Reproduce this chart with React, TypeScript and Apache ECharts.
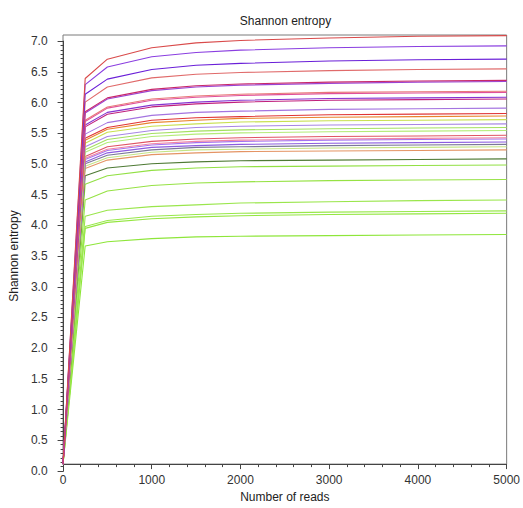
import { useEffect, useRef } from "react";
import * as echarts from "echarts";

// Number of reads sampled
const reads = [0, 250, 500, 1000, 1500, 2000, 3000, 4000, 5000];

// Shannon entropy per sample at each read depth
const s01 = [0, 6.38, 6.70, 6.89, 6.97, 7.01, 7.05, 7.08, 7.09];
const s02 = [0, 6.28, 6.57, 6.74, 6.81, 6.85, 6.89, 6.91, 6.92];
const s03 = [0, 6.12, 6.37, 6.53, 6.60, 6.63, 6.67, 6.69, 6.70];
const s04 = [0, 5.99, 6.24, 6.39, 6.45, 6.48, 6.51, 6.53, 6.54];
const s05 = [0, 5.83, 6.06, 6.20, 6.26, 6.29, 6.32, 6.34, 6.35];
const s06 = [0, 5.81, 6.04, 6.18, 6.24, 6.27, 6.30, 6.32, 6.33];
const s07 = [0, 5.69, 5.91, 6.04, 6.09, 6.12, 6.15, 6.16, 6.17];
const s08 = [0, 5.67, 5.89, 6.02, 6.07, 6.10, 6.13, 6.14, 6.15];
const s09 = [0, 5.61, 5.82, 5.94, 5.99, 6.02, 6.05, 6.06, 6.07];
const s10 = [0, 5.58, 5.79, 5.91, 5.96, 5.99, 6.02, 6.03, 6.04];
const s11 = [0, 5.46, 5.65, 5.77, 5.82, 5.84, 5.87, 5.88, 5.89];
const s12 = [0, 5.39, 5.57, 5.69, 5.73, 5.75, 5.78, 5.79, 5.80];
const s13 = [0, 5.36, 5.54, 5.65, 5.69, 5.72, 5.74, 5.75, 5.76];
const s14 = [0, 5.31, 5.49, 5.59, 5.63, 5.66, 5.68, 5.69, 5.70];
const s15 = [0, 5.25, 5.42, 5.52, 5.57, 5.59, 5.61, 5.62, 5.63];
const s16 = [0, 5.20, 5.37, 5.47, 5.51, 5.53, 5.55, 5.56, 5.57];
const s17 = [0, 5.16, 5.32, 5.42, 5.46, 5.48, 5.50, 5.51, 5.52];
const s18 = [0, 5.09, 5.25, 5.34, 5.38, 5.40, 5.42, 5.43, 5.44];
const s19 = [0, 5.06, 5.21, 5.30, 5.34, 5.36, 5.38, 5.39, 5.40];
const s20 = [0, 5.04, 5.19, 5.28, 5.32, 5.34, 5.36, 5.37, 5.38];
const s21 = [0, 5.00, 5.15, 5.24, 5.27, 5.29, 5.31, 5.32, 5.33];
const s22 = [0, 4.97, 5.11, 5.20, 5.24, 5.25, 5.27, 5.28, 5.29];
const s23 = [0, 4.93, 5.07, 5.16, 5.20, 5.21, 5.23, 5.24, 5.25];
const s24 = [0, 4.89, 5.03, 5.12, 5.15, 5.17, 5.18, 5.19, 5.20];
const s25 = [0, 4.77, 4.90, 4.97, 5.00, 5.02, 5.03, 5.04, 5.05];
const s26 = [0, 4.63, 4.77, 4.86, 4.90, 4.92, 4.93, 4.94, 4.95];
const s27 = [0, 4.37, 4.52, 4.61, 4.65, 4.67, 4.69, 4.70, 4.71];
const s28 = [0, 4.10, 4.20, 4.26, 4.29, 4.32, 4.34, 4.36, 4.37];
const s29 = [0, 3.93, 4.03, 4.10, 4.13, 4.15, 4.17, 4.18, 4.19];
const s30 = [0, 3.90, 4.00, 4.06, 4.09, 4.11, 4.13, 4.14, 4.15];
const s31 = [0, 3.61, 3.68, 3.73, 3.76, 3.77, 3.78, 3.79, 3.80];

const seriesValues = [
  s31, s30, s29, s28, s27, s26, s25, s24, s23, s22, s21, s20, s19, s18, s17, s16,
  s15, s14, s13, s12, s11, s10, s09, s08, s07, s06, s05, s04, s03, s02, s01,
];
const seriesColors = [
  "#8ee63a", "#94e640", "#98e84a", "#9ae64c", "#96e244", "#92e044", "#4e7a34", "#e49464",
  "#c4e484", "#7a7898", "#8c5ce0", "#a474f0", "#f084a4", "#e05464", "#b4ec78", "#a4e060",
  "#a886e4", "#c8e050", "#e8842c", "#e03434", "#a474e0", "#c0207c", "#8432d0", "#e0509c",
  "#e87878", "#9a44d4", "#c8286a", "#e06a6a", "#6a1fd8", "#8a3ee0", "#d94a4a",
];

const chartTitle = "Shannon entropy";
const xName = "Number of reads";
const yName = "Shannon entropy";

export default function App() {
  const ref = useRef<HTMLDivElement>(null);
  useEffect(() => {
    if (!ref.current) return;
    const chart = echarts.init(ref.current, null, { renderer: "svg" });
    const font = "Liberation Sans, Arial, sans-serif";
    const series = seriesValues.map((vals, i) => ({
      type: "line",
      xAxisIndex: 0,
      yAxisIndex: 0,
      data: vals.map((v, j) => [reads[j], v]),
      symbol: "none",
      lineStyle: { width: 1.1, color: seriesColors[i] },
      itemStyle: { color: seriesColors[i] },
    }));
    chart.setOption({
      animation: false,
      backgroundColor: "#ffffff",
      textStyle: { fontFamily: font },
      grid: [
        { left: 63, right: 15, top: 35, bottom: 37, show: true, borderColor: "#7a7a7a", borderWidth: 1, backgroundColor: "transparent" },
        { left: 63, right: 15, top: 41.14, bottom: 37 },
      ],
      xAxis: [
        {
          gridIndex: 0,
          type: "value",
          min: 0,
          max: 5000,
          interval: 1000,
          name: xName,
          nameLocation: "middle",
          nameGap: 23,
          nameTextStyle: { fontSize: 12, color: "#222", fontFamily: font },
          axisLine: { show: true, lineStyle: { color: "#444", width: 1 } },
          axisTick: { show: true, length: 5, lineStyle: { color: "#444" } },
          minorTick: { show: true, splitNumber: 5, length: 3, lineStyle: { color: "#444" } },
          axisLabel: { fontSize: 12, color: "#333", margin: 10, fontFamily: font, formatter: (v: number) => String(v) },
          splitLine: { show: false },
        },
        { gridIndex: 1, type: "value", min: 0, max: 5000, show: false },
      ],
      yAxis: [
        { gridIndex: 0, type: "value", min: 0, max: 7.1, show: false, splitLine: { show: false } },
        {
          gridIndex: 1,
          type: "value",
          min: 0,
          max: 7,
          interval: 0.5,
          name: yName,
          nameLocation: "middle",
          nameGap: 42,
          nameTextStyle: { fontSize: 12, color: "#222", fontFamily: font },
          axisLine: { show: true, lineStyle: { color: "#444", width: 1 } },
          axisTick: { show: true, length: 6, lineStyle: { color: "#444" } },
          minorTick: { show: true, splitNumber: 7, length: 3, lineStyle: { color: "#444" } },
          axisLabel: { fontSize: 12, color: "#333", margin: 16, fontFamily: font, formatter: (v: number) => v.toFixed(1) },
          splitLine: { show: false },
        },
      ],
      graphic: [
        {
          type: "text",
          x: 285.5,
          y: 21,
          style: { text: chartTitle, align: "center", verticalAlign: "middle", fontSize: 12, fill: "#222", fontFamily: font },
        },
      ],
      series,
    });
    return () => chart.dispose();
  }, []);
  return <div ref={ref} style={{ position: "fixed", left: 0, top: 0, width: 523, height: 508 }} />;
}
